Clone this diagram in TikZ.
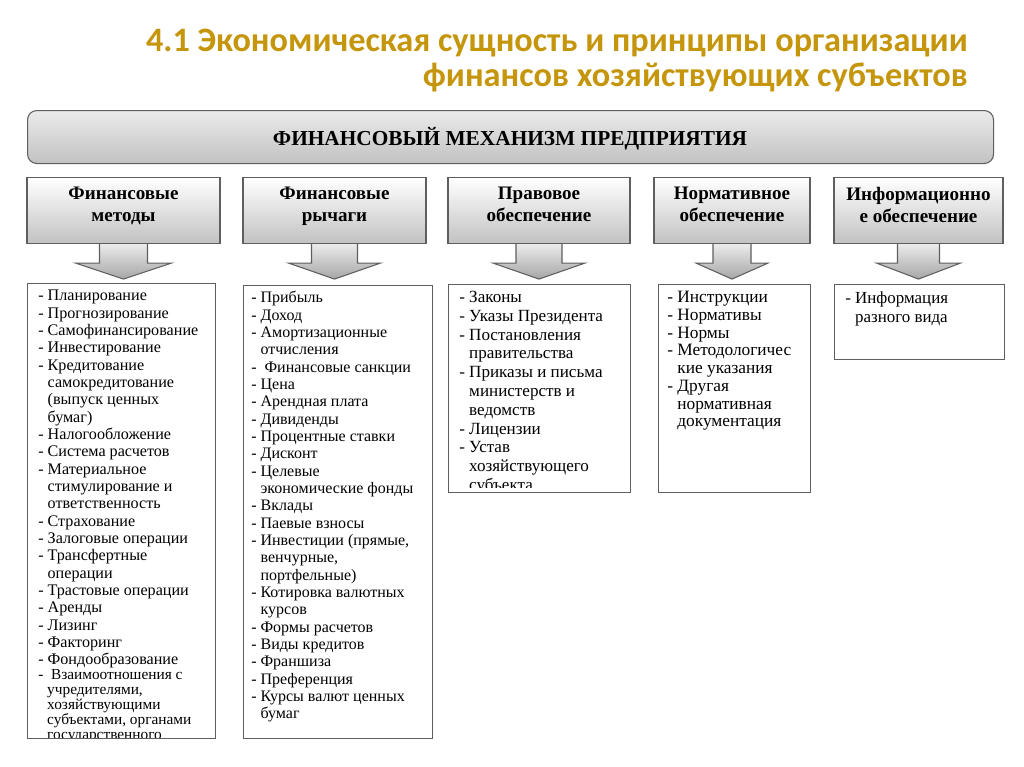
\documentclass[tikz,border=0pt]{standalone}
\usepackage{fontspec}
\setmainfont{Liberation Serif}
\newfontfamily\titlefont{Carlito}
\usetikzlibrary{calc}
\definecolor{gold}{RGB}{197,150,12}
\definecolor{bordergray}{RGB}{95,95,95}
\newcommand\ctn{\hphantom{-~}}
\tikzset{
  barbox/.style={draw=bordergray, line width=0.8pt, rounded corners=7pt,
    top color=black!8, bottom color=black!24, inner sep=0pt},
  hbox/.style={draw=bordergray, line width=0.8pt, top color=white,
    bottom color=black!24, inner sep=0pt, minimum height=66*0.75pt},
  htext/.style={font=\fontsize{14.3}{16.5}\selectfont\bfseries, align=center,
    inner sep=0pt, anchor=north},
  callarrow/.style={draw=bordergray, line width=0.8pt, top color=black!8,
    bottom color=black!35},
  lbox/.style={draw=bordergray, line width=0.9pt, fill=white, inner sep=0pt,
    anchor=north west},
  ltext/.style={align=left, inner sep=0pt, anchor=north west},
}
\newcommand\downarr[3]{%
  \draw[callarrow] ($(#1.south)+(-#2,0)$) -- ($(#1.south)+(-#2,19)$)
    -- ($(#1.south)+(-#3,19)$) -- ($(#1.south)+(0,35)$)
    -- ($(#1.south)+(#3,19)$) -- ($(#1.south)+(#2,19)$)
    -- ($(#1.south)+(#2,0)$);}
\begin{document}
\begin{tikzpicture}[x=0.75pt,y=-0.75pt]
\path[use as bounding box, fill=white] (0,0) rectangle (1024,767);

% title
\node[anchor=east, align=right, inner sep=0pt, text=gold,
  font=\titlefont\bfseries\fontsize{25.7}{26.25}\selectfont] (title) at (968,61)
  {4.1 Экономическая сущность и принципы организации\\финансов хозяйствующих субъектов};

% main bar
\node[barbox, minimum width=966*0.75pt, minimum height=53*0.75pt, anchor=north west] (bar) at (27,110) {};
\node[font=\fontsize{16}{18}\selectfont\bfseries, inner sep=0pt] (bartext) at (510,139)
  {ФИНАНСОВЫЙ МЕХАНИЗМ ПРЕДПРИЯТИЯ};

% header boxes
\node[hbox, minimum width=193*0.75pt, anchor=north] (h1) at (123.5,177) {};
\node[hbox, minimum width=183*0.75pt, anchor=north] (h2) at (334.5,177) {};
\node[hbox, minimum width=182*0.75pt, anchor=north] (h3) at (539,177) {};
\node[hbox, minimum width=156*0.75pt, anchor=north] (h4) at (732,177) {};
\node[hbox, minimum width=169*0.75pt, anchor=north] (h5) at (918.5,177) {};

\node[htext] (t1) at ($(h1.north)+(0,10)$) {Финансовые\\методы};
\node[htext] (t2) at ($(h2.north)+(0,10)$) {Финансовые\\рычаги};
\node[htext] (t3) at ($(h3.north)+(0,10)$) {Правовое\\обеспечение};
\node[htext] (t4) at ($(h4.north)+(0,10)$) {Нормативное\\обеспечение};
\node[htext] (t5) at ($(h5.north)+(0,10)$) {Информационно\\е обеспечение};

\downarr{h1}{24}{48}
\downarr{h2}{23}{46}
\downarr{h3}{23}{46}
\downarr{h4}{19}{36}
\downarr{h5}{21}{42}

% lower boxes
\node[lbox, minimum width=188*0.75pt, minimum height=455*0.75pt] (l1) at (27,283) {};
\node[lbox, minimum width=189*0.75pt, minimum height=453*0.75pt] (l2) at (243,285) {};
\node[lbox, minimum width=182*0.75pt, minimum height=208*0.75pt] (l3) at (448,284) {};
\node[lbox, minimum width=152*0.75pt, minimum height=208*0.75pt] (l4) at (658,284) {};
\node[lbox, minimum width=170*0.75pt, minimum height=75*0.75pt] (l5) at (834,284) {};

\begin{scope}
\clip (27,283) rectangle (215,737.5);
\node[ltext, font=\fontsize{12.1}{13}\selectfont] (x1) at ($(l1.north west)+(11,7)$) {%
- Планирование\\
- Прогнозирование\\
- Самофинансирование\\
- Инвестирование\\
- Кредитование\\
\ctn самокредитование\\
\ctn (выпуск ценных\\
\ctn бумаг)\\
- Налогообложение\\
- Система расчетов\\
- Материальное\\
\ctn стимулирование и\\
\ctn ответственность\\
- Страхование\\
- Залоговые операции\\
- Трансфертные\\
\ctn операции\\
- Трастовые операции\\
- Аренды\\
- Лизинг\\
- Факторинг\\
- Фондообразование\\[-1.8pt]
{\fontsize{11.5}{11.5}\selectfont -~ Взаимоотношения с}\\[-1.8pt]
{\fontsize{11.5}{11.5}\selectfont\ctn учредителями,}\\[-1.8pt]
{\fontsize{11.5}{11.5}\selectfont\ctn хозяйствующими}\\[-1.8pt]
{\fontsize{11.5}{11.5}\selectfont\ctn субъектами, органами}\\[-1.8pt]
{\fontsize{11.5}{11.5}\selectfont\ctn государственного}};
\end{scope}

\node[ltext, font=\fontsize{12}{13}\selectfont] (x2) at ($(l2.north west)+(8,6)$) {%
- Прибыль\\
- Доход\\
- Амортизационные\\
\ctn отчисления\\
-~ Финансовые санкции\\
- Цена\\
- Арендная плата\\
- Дивиденды\\
- Процентные ставки\\
- Дисконт\\
- Целевые\\
\ctn экономические фонды\\
- Вклады\\
- Паевые взносы\\
- Инвестиции (прямые,\\
\ctn венчурные,\\
\ctn портфельные)\\
- Котировка валютных\\
\ctn курсов\\
- Формы расчетов\\
- Виды кредитов\\
- Франшиза\\
- Преференция\\
- Курсы валют ценных\\
\ctn бумаг};

\begin{scope}
\clip (448,284) rectangle (630,487);
\node[ltext, font=\fontsize{12.8}{14.1}\selectfont] (x3) at ($(l3.north west)+(11,7)$) {%
- Законы\\
- Указы Президента\\
- Постановления\\
\ctn правительства\\
- Приказы и письма\\
\ctn министерств и\\
\ctn ведомств\\
- Лицензии\\
- Устав\\
\ctn хозяйствующего\\
\ctn субъекта};
\end{scope}

\node[ltext, font=\fontsize{13}{13.3}\selectfont] (x4) at ($(l4.north west)+(9,7)$) {%
- Инструкции\\
- Нормативы\\
- Нормы\\
- Методологичес\\
\ctn кие указания\\
- Другая\\
\ctn нормативная\\
\ctn документация};

\node[ltext, font=\fontsize{12.7}{14.5}\selectfont] (x5) at ($(l5.north west)+(11,7)$) {%
- Информация\\
\ctn разного вида};

\end{tikzpicture}
\end{document}
